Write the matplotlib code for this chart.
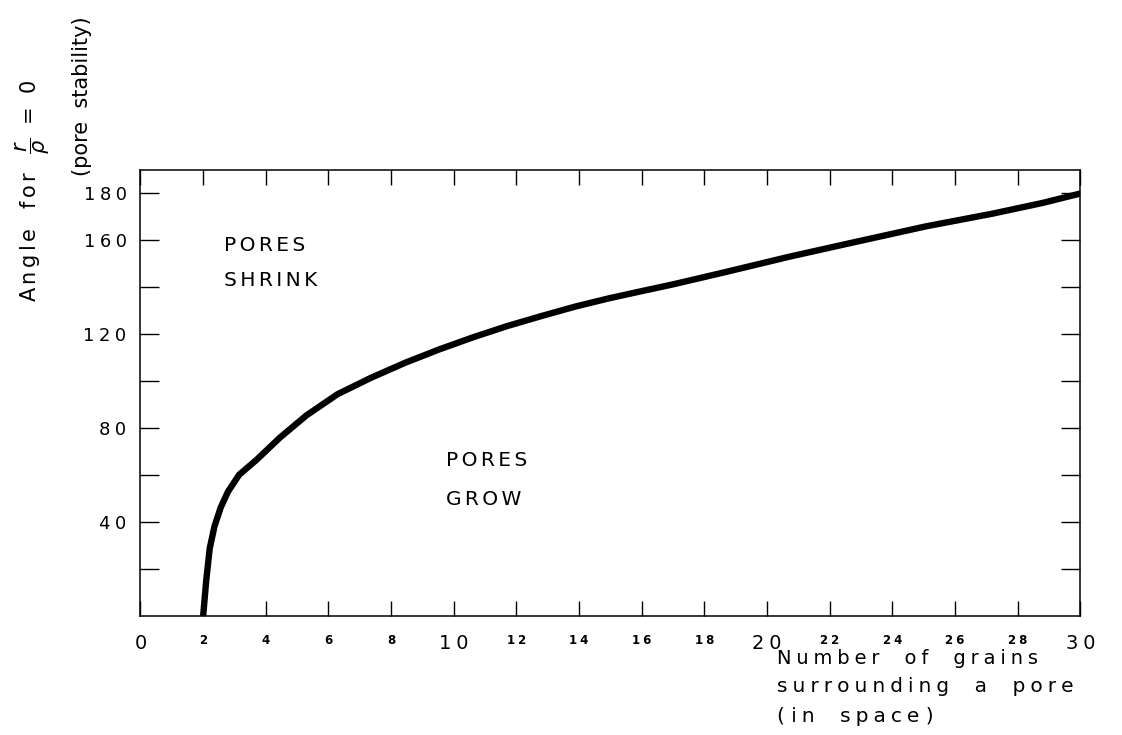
import matplotlib
matplotlib.use("Agg")
import matplotlib.pyplot as plt
from matplotlib.ticker import FixedLocator

plt.rcParams['font.family'] = ['DejaVu Sans']
plt.rcParams['mathtext.fontset'] = 'dejavusans'

# ---- data ----
grains = [2.0, 2.1, 2.21, 2.36, 2.56, 2.79, 3.15, 3.71, 4.45, 5.3, 6.29, 7.36,
          8.45, 9.56, 10.63, 11.70, 12.8, 13.87, 14.94, 16.03, 17.0, 18.6,
          20.75, 22.9, 25.07, 27.19, 28.8, 30.0]
angle = [0, 15.4, 28.8, 38.1, 46.2, 52.9, 60.2, 66.6, 76.0, 85.5, 94.5, 101.5,
         107.9, 113.7, 118.8, 123.5, 127.8, 131.8, 135.3, 138.5, 141.3, 146.3,
         153.2, 159.6, 166.0, 171.4, 176.0, 180.0]

x_ticks = [0, 2, 4, 6, 8, 10, 12, 14, 16, 18, 20, 22, 24, 26, 28, 30]
x_big = [0, 10, 20, 30]
y_ticks = [20, 40, 60, 80, 100, 120, 140, 160, 180]
y_labeled = [40, 80, 120, 160, 180]

SP = '\u2005'
SP_SMALL = '\u2006'


def spaced(s, sp=SP):
    return sp.join(s)


fig = plt.figure(figsize=(11.22, 7.35), dpi=100)
ax = fig.add_axes([0.1252, 0.1619, 0.8378, 0.6068])

ax.plot(grains, angle, color='black', lw=4.6, solid_capstyle='butt',
        solid_joinstyle='round')

ax.set_xlim(0, 30)
ax.set_ylim(0, 190)

for s in ax.spines.values():
    s.set_linewidth(1.1)

ax.xaxis.set_major_locator(FixedLocator(x_ticks))
ax.yaxis.set_major_locator(FixedLocator(y_ticks))
ax.set_xticklabels([spaced(str(t)) for t in x_ticks])
ax.set_yticklabels([spaced(str(t)) if t in y_labeled else '' for t in y_ticks])

ax.tick_params(direction='in', top=True, right=True, labeltop=False,
               labelright=False, width=1.0, color='black')
ax.tick_params(axis='x', length=11, pad=13)
ax.tick_params(axis='y', length=14, pad=10, labelsize=13)

for t, lab in zip(x_ticks, ax.get_xticklabels()):
    if t in x_big:
        lab.set_fontsize(14)
    else:
        lab.set_fontsize(8.5)
        lab.set_fontweight('bold')

# region labels
ax.text(2.65, 158, spaced("PORES", SP_SMALL), fontsize=14.5, ha='left', va='center')
ax.text(2.65, 143, spaced("SHRINK", SP_SMALL), fontsize=14.5, ha='left', va='center')
ax.text(9.75, 66.4, spaced("PORES", SP_SMALL), fontsize=14.5, ha='left', va='center')
ax.text(9.75, 49.7, spaced("GROW", SP_SMALL), fontsize=14.5, ha='left', va='center')

# y-axis label (two rotated lines)
W, H = 1122.0, 735.0
fig.text(33 / W, 1 - 302 / H,
         spaced("Angle", SP_SMALL) + "   " + spaced("for", SP_SMALL) + r"   $\dfrac{r}{\rho}$  =  0",
         rotation=90, fontsize=15, ha='center', va='bottom')
fig.text(82 / W, 1 - 176 / H, "(pore  stability)",
         rotation=90, fontsize=15, ha='center', va='bottom')

# x-axis label (three lines)
fig.text(777 / W, 1 - 658 / H, spaced("Number") + "    " + spaced("of") + "    " + spaced("grains"),
         fontsize=14, ha='left', va='center')
fig.text(777 / W, 1 - 687 / H, spaced("surrounding") + "    " + spaced("a") + "    " + spaced("pore"),
         fontsize=14.5, ha='left', va='center')
fig.text(777 / W, 1 - 717 / H, "( " + spaced("in") + "    " + spaced("space") + " )",
         fontsize=14.5, ha='left', va='center')

fig.savefig("out.png", dpi=100)
